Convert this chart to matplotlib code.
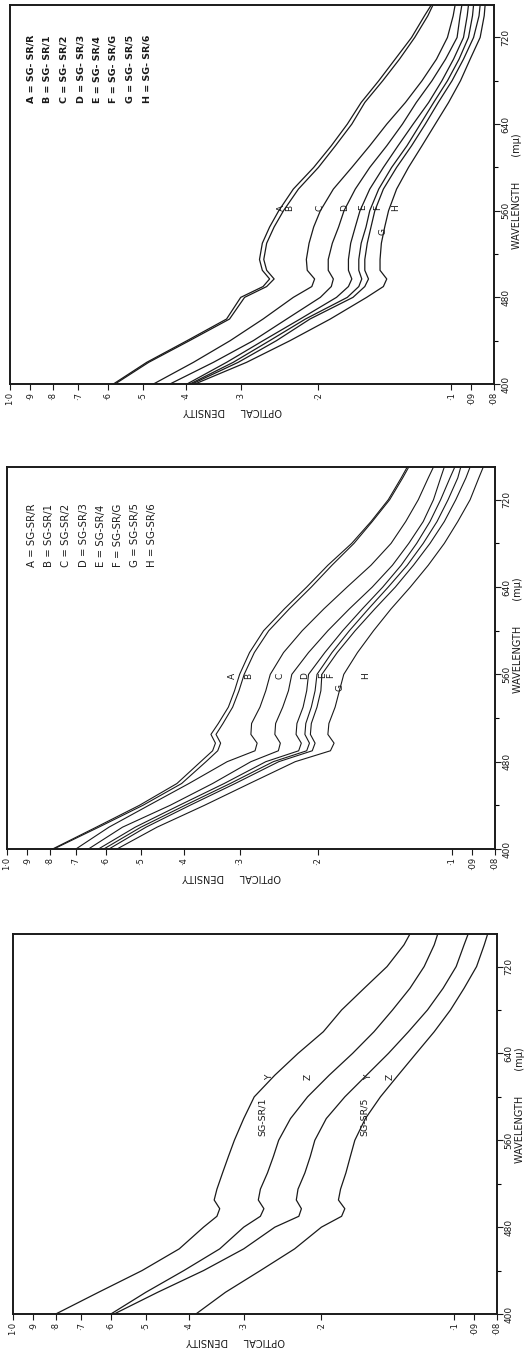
import matplotlib
matplotlib.use("Agg")
import matplotlib.pyplot as plt
from matplotlib.ticker import FixedLocator, NullLocator, FixedFormatter

plt.rcParams['font.family'] = ['DejaVu Sans']

# ---------------- data ----------------
wavelength = [400, 420, 440, 460, 480, 490, 497, 505, 515, 530, 545, 560, 580,
              600, 620, 640, 660, 680, 700, 720, 740, 750]

# Panel 1 (top)
p1_A = [.583, .49, .397, .323, .30, .267, .258, .268, .272, .268, .258, .246, .228, .205, .187, .172, .160, .146, .134, .123, .115, .111]
p1_B = [.578, .485, .392, .318, .294, .262, .252, .262, .266, .262, .252, .240, .222, .200, .183, .168, .157, .143, .131, .121, .113, .110]
p1_C = [.473, .384, .317, .267, .228, .207, .204, .212, .213, .210, .205, .198, .185, .168, .153, .140, .127, .1165, .108, .102, .099, .098]
p1_D = [.434, .346, .281, .236, .198, .187, .185, .190, .190, .186, .180, .175, .165, .153, .140, .129, .120, .1106, .103, .097, .0955, .0946]
p1_E = [.397, .323, .267, .220, .182, .171, .168, .171, .171, .169, .165, .161, .153, .1425, .132, .122, .1125, .105, .0988, .0938, .092, .0914]
p1_F = [.391, .312, .258, .214, .172, .162, .1595, .162, .162, .160, .156, .153, .146, .1365, .126, .1175, .1096, .102, .096, .0914, .0895, .089]
p1_G = [.387, .304, .249, .209, .167, .157, .154, .157, .157, .155, .152, .149, .1425, .133, .123, .1145, .107, .0996, .0938, .089, .0865, .086]
p1_H = [.381, .291, .232, .188, .1555, .1425, .140, .145, .145, .144, .1415, .1387, .133, .125, .1165, .1087, .1014, .0953, .0906, .086, .0842, .0838]

# Panel 2 (middle)
p2_A = [.79, .63, .504, .415, .367, .345, .34, .348, .335, .318, .308, .300, .285, .265, .238, .212, .190, .168, .152, .139, .130, .126]
p2_B = [.785, .622, .495, .405, .357, .336, .331, .339, .327, .311, .301, .293, .278, .258, .232, .207, .186, .166, .151, .138, .129, .125]
p2_C = [.70, .59, .48, .39, .32, .277, .274, .283, .282, .27, .262, .256, .239, .217, .194, .172, .152, .137, .127, .119, .113, .110]
p2_D = [.656, .55, .43, .345, .283, .2455, .243, .25, .249, .24, .233, .229, .21, .19, .17, .151, .136, .125, .116, .110, .106, .104]
p2_E = [.623, .515, .41, .325, .262, .221, .218, .224, .223, .216, .212, .210, .193, .176, .159, .143, .130, .120, .112, .106, .101, .0985]
p2_F = [.606, .50, .398, .315, .252, .212, .209, .214, .213, .207, .203, .201, .186, .170, .154, .139, .126, .116, .108, .102, .097, .0955]
p2_G = [.59, .487, .388, .307, .245, .206, .203, .208, .207, .201, .197, .196, .181, .165, .149, .134, .122, .112, .104, .098, .093, .091]
p2_H = [.566, .46, .36, .285, .225, .1875, .184, .19, .189, .183, .179, .175, .163, .150, .137, .124, .113, .104, .097, .091, .087, .085]

# Panel 3 (bottom)
p3_Y1 = [.80, .64, .51, .42, .37, .345, .34, .35, .345, .335, .325, .315, .30, .284, .255, .226, .198, .180, .160, .142, .130, .126]
p3_Z1 = [.60, .50, .41, .34, .30, .275, .27, .278, .275, .265, .257, .25, .235, .215, .192, .170, .152, .138, .126, .117, .111, .109]
p3_Y5 = [.59, .47, .37, .30, .255, .225, .222, .228, .226, .218, .212, .207, .195, .177, .158, .141, .127, .115, .106, .099, .095, .093]
p3_Z5 = [.385, .33, .275, .23, .20, .18, .177, .183, .181, .176, .172, .168, .159, .147, .134, .122, .111, .102, .095, .089, .0855, .084]

letters = ['A', 'B', 'C', 'D', 'E', 'F', 'G', 'H']
samples = ['SG- SR/R', 'SG- SR/1', 'SG- SR/2', 'SG- SR/3', 'SG- SR/4', 'SG- SR/G', 'SG- SR/5', 'SG- SR/6']
samples2 = ['SG-SR/R', 'SG-SR/1', 'SG-SR/2', 'SG-SR/3', 'SG-SR/4', 'SG-SR/G', 'SG-SR/5', 'SG-SR/6']

density_ticks = [1.0, .9, .8, .7, .6, .5, .4, .3, .2, .1, .09, .08]
density_labels = ['1·0', '·9', '·8', '·7', '·6', '·5', '·4', '·3', '·2', '·1', '·09', '·08']
wl_major = [400, 480, 560, 640, 720]
wl_minor = [440, 520, 600, 680]

# ---------------- figure ----------------
W, H = 526, 1351
fig = plt.figure(figsize=(W / 100, H / 100), dpi=100)
fig.patch.set_facecolor('white')

def px_axes(x0, y0, x1, y1):
    return fig.add_axes([x0 / W, 1 - y1 / H, (x1 - x0) / W, (y1 - y0) / H])

LC = '#1a1a1a'

def setup(ax, wl_frac):
    ax.set_xscale('log')
    ax.set_xlim(1.0, 0.08)
    ax.set_ylim(400, 750)
    ax.xaxis.set_major_locator(FixedLocator(density_ticks))
    ax.xaxis.set_major_formatter(FixedFormatter(density_labels))
    ax.xaxis.set_minor_locator(NullLocator())
    ax.yaxis.tick_right()
    ax.yaxis.set_major_locator(FixedLocator(wl_major))
    ax.yaxis.set_minor_locator(FixedLocator(wl_minor))
    ax.tick_params(axis='x', which='both', direction='out', length=4, width=0.8,
                   labelsize=6, rotation=90, pad=1.5, colors=LC)
    ax.tick_params(axis='y', which='major', direction='out', length=4, width=0.8,
                   labelsize=6.5, pad=1.5, colors=LC)
    ax.tick_params(axis='y', which='minor', direction='out', length=3, width=0.8)
    for lab in ax.get_yticklabels():
        lab.set_rotation(90)
        lab.set_va('center')
    for s in ax.spines.values():
        s.set_linewidth(1.4)
        s.set_color(LC)
    ax.text(0.46, -0.072, 'OPTICAL     DENSITY', transform=ax.transAxes, rotation=180,
            ha='center', va='center', fontsize=7, color=LC)
    ax.text(1.048, wl_frac, 'WAVELENGTH        (mμ)', transform=ax.transAxes, rotation=90,
            ha='center', va='center', fontsize=7, color=LC)

# Panel 1
ax1 = px_axes(10, 5, 494, 384)
setup(ax1, 0.51)
for ys in [p1_A, p1_B, p1_C, p1_D, p1_E, p1_F, p1_G, p1_H]:
    ax1.plot(ys, wavelength, color=LC, lw=0.9)
lab1_d = [.242, .232, .198, .174, .159, .147, .1426, .134]
lab1_w = [563, 563, 563, 563, 563, 563, 541, 563]
for L, d, w in zip(letters, lab1_d, lab1_w):
    ax1.text(d, w, L, rotation=90, ha='center', va='center', fontsize=6.5, color=LC)
for i, (L, s) in enumerate(zip(letters, samples)):
    ax1.text((31 - 10 + i * 16.5) / 484, 1 - (103 - 5) / 379, f'{L} = {s}', transform=ax1.transAxes,
             rotation=90, ha='center', va='bottom', fontsize=6.8, fontweight='bold', color=LC)

# Panel 2
ax2 = px_axes(7, 467, 495, 849)
setup(ax2, 0.56)
for ys in [p2_A, p2_B, p2_C, p2_D, p2_E, p2_F, p2_G, p2_H]:
    ax2.plot(ys, wavelength, color=LC, lw=0.8)
lab2_d = [.312, .286, .243, .214, .195, .187, .1786, .156]
lab2_w = [559, 559, 559, 559, 559, 559, 548, 559]
for L, d, w in zip(letters, lab2_d, lab2_w):
    ax2.text(d, w, L, rotation=90, ha='center', va='center', fontsize=6.5, color=LC)
for i, (L, s) in enumerate(zip(letters, samples2)):
    ax2.text((32 - 7 + i * 17.2) / 488, 1 - (567 - 467) / 382, f'{L} = {s}', transform=ax2.transAxes,
             rotation=90, ha='center', va='bottom', fontsize=7.3, color=LC)

# Panel 3
ax3 = px_axes(13, 934, 497, 1314)
setup(ax3, 0.55)
for ys in [p3_Y1, p3_Z1, p3_Y5, p3_Z5]:
    ax3.plot(ys, wavelength, color=LC, lw=0.9)
ax3.text(0.262, 618, 'Y', rotation=90, ha='center', va='center', fontsize=6.5, color=LC)
ax3.text(0.214, 618, 'Z', rotation=90, ha='center', va='center', fontsize=6.5, color=LC)
ax3.text(0.156, 618, 'Y', rotation=90, ha='center', va='center', fontsize=6.5, color=LC)
ax3.text(0.140, 618, 'Z', rotation=90, ha='center', va='center', fontsize=6.5, color=LC)
ax3.text(0.272, 582, 'SG-SR/1', rotation=90, ha='center', va='center', fontsize=6.8, color=LC)
ax3.text(0.160, 582, 'SG-SR/5', rotation=90, ha='center', va='center', fontsize=6.8, color=LC)

fig.savefig('out.png', dpi=100, facecolor='white')
